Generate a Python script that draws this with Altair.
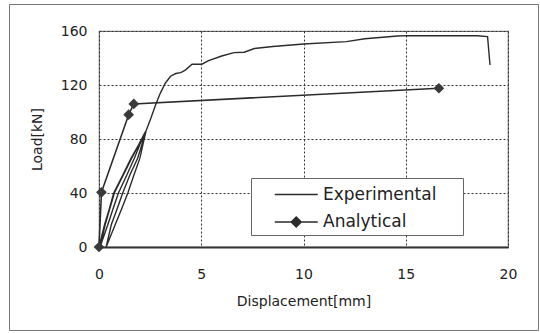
import altair as alt
import pandas as pd

series_names = ["Experimental", "Analytical"]

exp_disp = [0.0, 0.27, 0.5, 0.72, 1.15, 1.57, 1.95, 2.25,
            2.3, 2.15, 2.0, 1.7, 1.41, 1.1, 0.79, 0.35,
            0.6, 0.88, 1.16, 1.5, 1.89, 2.1, 2.28,
            2.0, 1.73, 1.35, 0.95, 0.68, 0.43, 0.05,
            0.3, 0.75, 1.6, 2.27, 2.35, 2.55, 2.76, 3.0, 3.24, 3.5, 3.75, 4.0,
            4.22, 4.55, 5.03, 5.36, 6.0, 6.6, 7.1, 7.6, 8.5, 10.0, 12.1, 13.0,
            14.6, 15.1, 18.5, 19.0, 19.12]
exp_load = [0.0, 16.5, 28, 40, 53, 65.8, 76, 85,
            86, 76, 65.8, 53, 40, 28, 16.5, 0,
            16.5, 28, 40, 53, 65.8, 76, 85,
            76, 65.8, 53, 40, 28, 16.5, 0,
            16.5, 40, 65.8, 85, 88, 96, 105, 114, 121.3, 126.5, 128.5, 129.2,
            131, 135.4, 135.4, 138, 141.5, 144, 144.3, 147, 148.5, 150.4, 152.1, 154.3,
            156.3, 156.6, 156.5, 155.8, 134.8]

ana_disp = [0.0, 0.12, 1.45, 1.70, 16.62]
ana_load = [0.0, 40.5, 98.0, 106.0, 117.6]

x_ticks = [0, 5, 10, 15, 20]
y_ticks = [0, 40, 80, 120, 160]

exp_df = pd.DataFrame({"disp": exp_disp, "load": exp_load,
                       "series": series_names[0], "i": list(range(len(exp_disp)))})
ana_df = pd.DataFrame({"disp": ana_disp, "load": ana_load,
                       "series": series_names[1], "i": list(range(len(ana_disp)))})
all_df = pd.concat([exp_df, ana_df], ignore_index=True)

FONT = "DejaVu Sans"
INK = "#2b2b2b"

x_enc = alt.X("disp:Q", scale=alt.Scale(domain=[0, 20], nice=False),
              axis=alt.Axis(values=x_ticks, title="Displacement[mm]", format="d",
                            domainColor="#333", domainWidth=2, labelPadding=20,
                            labelFlush=False, titlePadding=13))
y_enc = alt.Y("load:Q", scale=alt.Scale(domain=[0, 160], nice=False),
              axis=alt.Axis(values=y_ticks, title="Load[kN]", format="d",
                            domain=False, labelPadding=12, titlePadding=16,
                            labelFlush=False))

frame = alt.Chart(pd.DataFrame({"k": [0]})).mark_rect(
    fill="transparent", stroke="#777", strokeWidth=1
).encode(x=alt.value(-89.5), x2=alt.value(439.5), y=alt.value(-26.5), y2=alt.value(299.5))

exp_line = alt.Chart(exp_df).mark_line(color=INK, strokeWidth=1.4).encode(
    x=x_enc, y=y_enc, order="i:Q")

ana_line = alt.Chart(ana_df).mark_line(color=INK, strokeWidth=1.6).encode(
    x=x_enc, y=y_enc, order="i:Q")

ana_pts = alt.Chart(ana_df).mark_point(shape="diamond", filled=True, size=115,
                                        color="#3a3a3a", opacity=1).encode(x=x_enc, y=y_enc)

# legend glyphs: a line, and a line with a (solid, drawn as nested outlines) diamond
path_exp = "M-1,0H3"
diamond = "".join(
    f"M{1 - r:.3f},0L1,{-r:.3f}L{1 + r:.3f},0L1,{r:.3f}Z"
    for r in (0.47, 0.38, 0.29, 0.2, 0.11, 0.03)
)
path_ana = "M-1,0H3" + diamond

pad_label = "\u00a0" * 4 + "\u200b"

legend_layer = alt.Chart(all_df).transform_filter("false").mark_point(
    filled=False, color=INK, strokeWidth=1.4, opacity=1
).encode(
    x=x_enc, y=y_enc,
    shape=alt.Shape("series:N",
                    scale=alt.Scale(domain=series_names, range=[path_exp, path_ana]),
                    legend=alt.Legend(title=None, orient="none", legendX=152, legendY=147,
                                      direction="vertical", symbolSize=462,
                                      labelFontSize=17, labelFont=FONT, labelColor="#222",
                                      labelOffset=26, symbolOffset=18, rowPadding=7.5,
                                      padding=5, strokeColor="#666", fillColor="white",
                                      labelLimit=300,
                                      labelExpr=f"datum.label + '{pad_label}'",
                                      symbolStrokeWidth=1.4, symbolStrokeColor=INK))
)

chart = alt.layer(frame, exp_line, ana_line, ana_pts, legend_layer).properties(
    width=409, height=216,
    padding={"left": 99, "top": 31, "right": 32, "bottom": 86},
    autosize=alt.AutoSizeParams(type="none"),
    background="white",
).configure_view(stroke="#777", strokeWidth=1.2).configure_axis(
    labelFont=FONT, labelFontSize=14, labelColor="#222",
    titleFont=FONT, titleFontSize=14, titleColor="#222", titleFontWeight="normal",
    ticks=False, tickSize=0, grid=True, gridColor="#333", gridDash=[2, 2], gridWidth=1,
).configure_legend(strokeColor="#666", strokeWidth=1)

chart.save("out.html", embed_options={"renderer": "svg", "actions": False})
